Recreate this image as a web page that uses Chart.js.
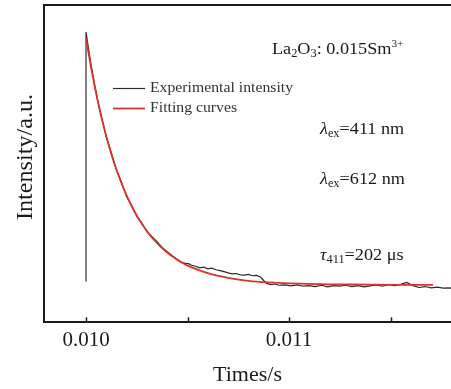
<!DOCTYPE html>
<html lang="en">
<head>
  <meta charset="UTF-8" />
  <title>La2O3:Sm decay curve</title>
  <script src="https://cdn.jsdelivr.net/npm/chart.js"></script>
  <style>
    body { margin: 0; background: #fff; }
    #wrap { width: 451px; height: 389px; position: relative; }
  </style>
</head>
<body>
  <div id="wrap"><canvas id="decay"></canvas></div>

  <script>
    // time in seconds, intensity in arbitrary units (0..100 of the frame)
    const expTimes = [
      0.01000, 0.01000, 0.01002, 0.01004, 0.01006, 0.01008, 0.01010, 0.010125, 0.01015, 0.010175,
      0.01020, 0.010225, 0.01025, 0.010275, 0.01030, 0.010325, 0.01035, 0.010375, 0.01040, 0.010425,
      0.01045, 0.01047, 0.01049, 0.010505, 0.01052, 0.01054, 0.01056, 0.01058, 0.01060, 0.01062,
      0.01064, 0.01066, 0.01068, 0.01070, 0.01072, 0.01074, 0.01076, 0.01078, 0.01080, 0.01082,
      0.01084, 0.01086, 0.010875, 0.01089, 0.01091, 0.01093, 0.01095, 0.01098, 0.01101, 0.01104,
      0.01107, 0.01110, 0.01113, 0.01116, 0.01119, 0.01122, 0.01125, 0.01128, 0.01131, 0.01134,
      0.01137, 0.01140, 0.01143, 0.01146, 0.01149, 0.01152, 0.01155, 0.01158, 0.01161, 0.01164,
      0.01167, 0.01170, 0.01173, 0.01176, 0.01179, 0.01180
    ];
    const expValues = [
      12.9, 91.5, 83.0, 75.6, 69.0, 63.8, 58.4, 53.3, 48.0, 44.2,
      39.6, 36.9, 33.4, 31.3, 28.5, 27.0, 25.4, 23.6, 22.3, 21.0,
      19.8, 18.9, 18.6, 18.5, 18.0, 17.7, 17.2, 17.4, 16.9, 17.1,
      16.6, 16.3, 16.0, 15.6, 15.3, 15.4, 15.0, 14.9, 15.1, 14.7,
      14.8, 14.3, 13.2, 12.3, 11.9, 12.1, 11.7, 11.8, 11.5, 11.8,
      11.4, 11.6, 11.3, 11.7, 11.2, 11.6, 11.4, 11.7, 11.3, 11.6,
      11.2, 11.5, 11.8, 11.4, 11.9, 11.6, 12.0, 12.6, 11.6, 11.0,
      11.3, 10.9, 11.1, 10.8, 10.9, 10.8
    ];
    const fitTimes = [
      0.01000, 0.010025, 0.01005, 0.010075, 0.01010, 0.010125, 0.01015, 0.010175, 0.01020, 0.010225,
      0.01025, 0.010275, 0.01030, 0.010325, 0.01035, 0.010375, 0.01040, 0.010425, 0.01045, 0.010475,
      0.01050, 0.01060, 0.01070, 0.01080, 0.01090, 0.01100, 0.01120, 0.01140, 0.01171
    ];
    const fitValues = [
      89.6, 80.3, 72.2, 64.9, 58.6, 53.0, 48.1, 43.8, 40.0, 36.6,
      33.7, 31.1, 28.8, 26.7, 25.0, 23.4, 22.0, 20.8, 19.7, 18.8,
      17.9, 15.5, 14.0, 13.1, 12.6, 12.3, 12.0, 11.9, 11.8
    ];
    const seriesNames = ["Experimental intensity", "Fitting curves"];
    const tickValues = [0.0100, 0.0105, 0.0110, 0.0115];
    const tickLabels = ["0.010", "", "0.011", ""];

    const serif = "'Liberation Serif', 'DejaVu Serif', serif";
    const inkColor = "#1a1a1a";

    // text with sub/superscripts, a bit wider like the scanned figure
    function drawRich(ctx, x, y, parts, size) {
      ctx.save();
      ctx.translate(x, y);
      ctx.scale(1.07, 1);
      ctx.textBaseline = "alphabetic";
      ctx.textAlign = "left";
      ctx.fillStyle = inkColor;
      let cx = 0;
      parts.forEach(p => {
        let s = size, dy = 0;
        if (p.sub) { s = size * 0.68; dy = size * 0.2; }
        if (p.sup) { s = size * 0.62; dy = -size * 0.42; }
        ctx.font = (p.italic ? "italic " : "") + s + "px " + serif;
        ctx.fillText(p.t, cx, dy);
        cx += ctx.measureText(p.t).width;
      });
      ctx.restore();
    }

    const decorations = {
      id: "decorations",
      afterDraw(chart) {
        const { ctx, chartArea } = chart;
        const xs = chart.scales.x;

        // top frame line
        ctx.save();
        ctx.strokeStyle = inkColor;
        ctx.lineWidth = 2;
        ctx.beginPath();
        ctx.moveTo(chartArea.left - 1, chartArea.top);
        ctx.lineTo(chartArea.right, chartArea.top);
        ctx.stroke();

        // inward tick marks on the time axis
        ctx.lineWidth = 1.5;
        tickValues.forEach(v => {
          const px = Math.round(xs.getPixelForValue(v)) + 0.5;
          ctx.beginPath();
          ctx.moveTo(px, chartArea.bottom);
          ctx.lineTo(px, chartArea.bottom - 5);
          ctx.stroke();
        });

        // y axis title
        ctx.save();
        ctx.translate(26, 157);
        ctx.rotate(-Math.PI / 2);
        ctx.scale(1.05, 1);
        ctx.fillStyle = inkColor;
        ctx.font = "23px " + serif;
        ctx.textAlign = "center";
        ctx.textBaseline = "middle";
        ctx.fillText("Intensity/a.u.", 0, 0);
        ctx.restore();

        // legend
        const legendRows = [88, 108];
        chart.data.datasets.forEach((ds, i) => {
          const y = legendRows[i] + 0.5;
          ctx.strokeStyle = ds.borderColor;
          ctx.lineWidth = i === 0 ? 1.2 : 1.8;
          ctx.beginPath();
          ctx.moveTo(113, y);
          ctx.lineTo(145, y);
          ctx.stroke();
          ctx.save();
          ctx.translate(150, y);
          ctx.scale(1.05, 1);
          ctx.fillStyle = "#333";
          ctx.font = "15px " + serif;
          ctx.textBaseline = "middle";
          ctx.fillText(ds.label, 0, 0);
          ctx.restore();
        });
        ctx.restore();

        drawRich(ctx, 272, 54, [
          { t: "La" }, { t: "2", sub: true }, { t: "O" }, { t: "3", sub: true },
          { t: ": 0.015Sm" }, { t: "3+", sup: true }
        ], 17);
        drawRich(ctx, 320, 134, [{ t: "λ", italic: true }, { t: "ex", sub: true }, { t: "=411 nm" }], 17);
        drawRich(ctx, 320, 184, [{ t: "λ", italic: true }, { t: "ex", sub: true }, { t: "=612 nm" }], 17);
        drawRich(ctx, 320, 260, [{ t: "τ", italic: true }, { t: "411", sub: true }, { t: "=202 μs" }], 17);
      }
    };

    new Chart(document.getElementById("decay"), {
      type: "line",
      data: {
        datasets: [
          {
            label: seriesNames[0],
            data: expTimes.map((t, i) => ({ x: t, y: expValues[i] })),
            borderColor: "#2b2b2b",
            borderWidth: 1.2,
            pointRadius: 0,
            tension: 0,
            order: 2
          },
          {
            label: seriesNames[1],
            data: fitTimes.map((t, i) => ({ x: t, y: fitValues[i] })),
            borderColor: "#d8332e",
            borderWidth: 1.8,
            pointRadius: 0,
            tension: 0.3,
            order: 1
          }
        ]
      },
      options: {
        responsive: true,
        maintainAspectRatio: false,
        animation: false,
        layout: { padding: { left: 44, right: 0, top: 5, bottom: 0 } },
        plugins: { legend: { display: false }, tooltip: { enabled: false } },
        scales: {
          x: {
            type: "linear",
            min: 0.009793,
            max: 0.011798,
            afterBuildTicks: axis => { axis.ticks = tickValues.map(v => ({ value: v })); },
            grid: { display: false, drawTicks: false },
            border: { display: true, color: inkColor, width: 2 },
            ticks: {
              autoSkip: false,
              maxRotation: 0,
              padding: 5,
              color: inkColor,
              font: { family: serif, size: 21 },
              callback: (v, i) => tickLabels[i]
            },
            title: {
              display: true,
              text: "Times/s",
              color: inkColor,
              font: { family: serif, size: 22 },
              padding: { top: 4, bottom: 1 }
            }
          },
          y: {
            min: 0,
            max: 100,
            grid: { display: false, drawTicks: false },
            border: { display: true, color: inkColor, width: 2 },
            ticks: { display: false },
            title: { display: false }
          }
        }
      },
      plugins: [decorations]
    });
  </script>
</body>
</html>
